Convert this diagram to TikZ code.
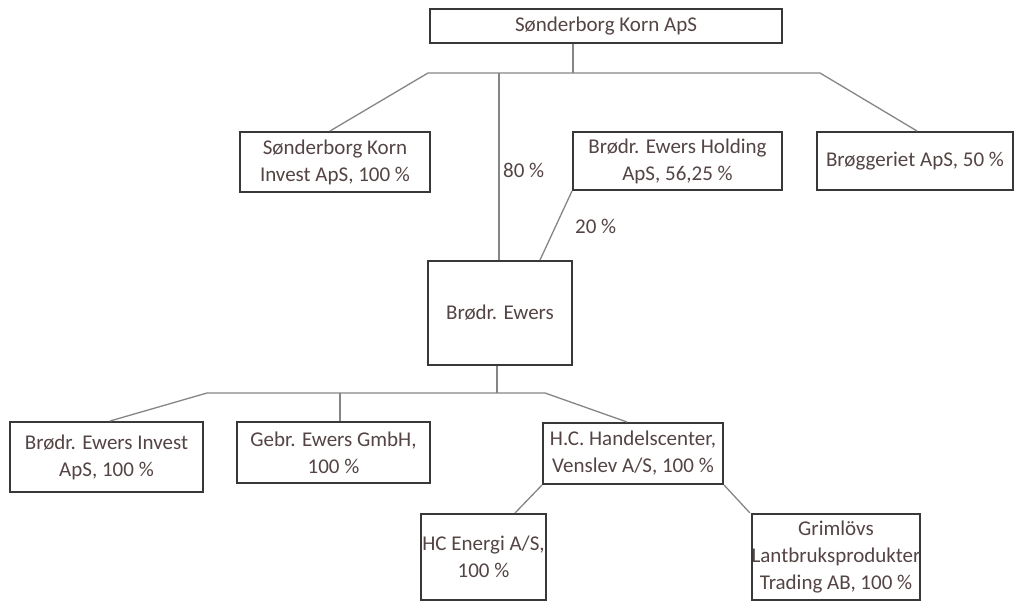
\documentclass[tikz,border=0pt]{standalone}
\usepackage{fontspec}
\setmainfont{Carlito}
\definecolor{txt}{HTML}{544444}
\definecolor{bord}{HTML}{383838}
\definecolor{conn}{HTML}{858585}
\begin{document}
\begin{tikzpicture}[x=1pt,y=-1pt,
  box/.style={draw=bord,line width=2pt,fill=white,inner sep=0pt,align=center,
    text=txt,font=\fontsize{21}{27}\selectfont},
  link/.style={draw=conn,line width=1.3pt},
  pct/.style={text=txt,font=\fontsize{21}{27}\selectfont,inner sep=0pt}]
\useasboundingbox (0,0) rectangle (1018,602);
% boxes
\node[box,minimum width=352pt,minimum height=34pt] (top) at (606,26) {Sønderborg Korn ApS};
\node[box,minimum width=190pt,minimum height=60pt] (ski) at (335,162) {Sønderborg Korn\\Invest ApS, 100 \%};
\node[box,minimum width=209pt,minimum height=58pt] (hold) at (677.5,161) {Brødr. Ewers Holding\\ApS, 56,25 \%};
\node[box,minimum width=196pt,minimum height=58pt] (brog) at (915,161) {Brøggeriet ApS, 50 \%};
\node[box,minimum width=144pt,minimum height=104pt] (ewers) at (500,313) {Brødr. Ewers};
\node[box,minimum width=193pt,minimum height=70pt] (bei) at (106.5,457) {Brødr. Ewers Invest\\ApS, 100 \%};
\node[box,minimum width=193pt,minimum height=61pt] (gebr) at (333.5,452.5) {Gebr. Ewers GmbH,\\100 \%};
\node[box,minimum width=180pt,minimum height=61pt] (hc) at (633,453.5) {H.C. Handelscenter,\\Venslev A/S, 100 \%};
\node[box,minimum width=125pt,minimum height=86pt] (hce) at (483.5,557) {HC Energi A/S,\\100 \%};
\node[box,minimum width=168pt,minimum height=86pt] (grim) at (836,557) {Grimlövs\\Lantbruksprodukter\\Trading AB, 100 \%};
% junction coordinates
\coordinate (j1) at (573,73);
\coordinate (jl) at (428,73);
\coordinate (jr) at (820,73);
\coordinate (jm) at (499,73);
\coordinate (j2) at (497,393);
\coordinate (kl) at (207,393);
\coordinate (km) at (340,393);
\coordinate (kr) at (545,393);
% connectors
\draw[link] (top.south -| j1) -- (j1);
\draw[link] (ski.north -| 330,0) -- (jl) -- (jr) -- (brog.north -| 917,0);
\draw[link] (jm) -- (ewers.north -| jm);
\draw[link] (hold.south west) -- (ewers.north -| 540,0);
\draw[link] (ewers.south -| j2) -- (j2);
\draw[link] (bei.north -| 110,0) -- (kl) -- (kr) -- (hc.north -| 627,0);
\draw[link] (km) -- (gebr.north -| km);
\draw[link] (hc.south west) -- (hce.north -| 515,0);
\draw[link] (hc.south east) -- (grim.north -| 750,0);
% labels
\node[pct,anchor=west] (p80) at (503,170) {80 \%};
\node[pct,anchor=west] (p20) at (575,226) {20 \%};
\end{tikzpicture}
\end{document}
